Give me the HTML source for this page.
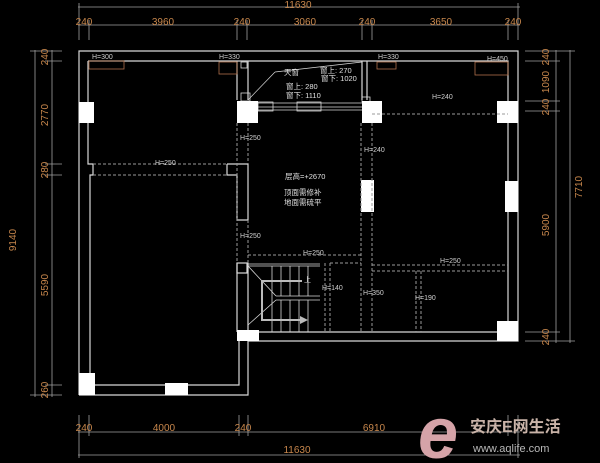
<!DOCTYPE html>
<html><head><meta charset="utf-8"><style>
html,body{margin:0;padding:0;background:#000;width:600px;height:463px;overflow:hidden}
svg{display:block}
.w{stroke:#d8d8d8;stroke-width:1.2;fill:none}
.d{stroke:#9a9a9a;stroke-width:1;fill:none;stroke-dasharray:3 2}
.dim{stroke:#a0a0a0;stroke-width:0.8;fill:none}
.t{fill:#c8874c;font-family:"Liberation Sans",sans-serif;font-size:10px}
.h{fill:#cfcfcf;font-family:"Liberation Sans",sans-serif;font-size:7px}
.c{fill:#e0e0e0;font-family:"Liberation Sans","Noto Sans CJK SC",sans-serif;font-size:7.5px}
.col{fill:#fff}
</style></head><body>
<svg width="600" height="463" viewBox="0 0 600 463" xmlns="http://www.w3.org/2000/svg">
<line class="dim" x1="78" y1="7" x2="520" y2="7"/>
<line class="dim" x1="78" y1="25" x2="520" y2="25"/>
<g class="dim">
<line x1="79" y1="3" x2="79" y2="40"/><line x1="518" y1="3" x2="518" y2="40"/>
<line x1="89" y1="20" x2="89" y2="40"/><line x1="237" y1="20" x2="237" y2="40"/><line x1="247" y1="20" x2="247" y2="40"/>
<line x1="362" y1="20" x2="362" y2="40"/><line x1="372" y1="20" x2="372" y2="40"/><line x1="508" y1="20" x2="508" y2="40"/>
</g>
<text class="t" x="298" y="8" text-anchor="middle">11630</text>
<text class="t" x="84" y="25" text-anchor="middle">240</text>
<text class="t" x="163" y="25" text-anchor="middle">3960</text>
<text class="t" x="242" y="25" text-anchor="middle">240</text>
<text class="t" x="305" y="25" text-anchor="middle">3060</text>
<text class="t" x="367" y="25" text-anchor="middle">240</text>
<text class="t" x="441" y="25" text-anchor="middle">3650</text>
<text class="t" x="513" y="25" text-anchor="middle">240</text>
<line class="dim" x1="78" y1="432" x2="520" y2="432"/>
<line class="dim" x1="78" y1="455" x2="520" y2="455"/>
<g class="dim">
<line x1="79" y1="415" x2="79" y2="458"/><line x1="89" y1="415" x2="89" y2="436"/>
<line x1="239" y1="415" x2="239" y2="436"/><line x1="248" y1="415" x2="248" y2="436"/><line x1="508" y1="415" x2="508" y2="436"/><line x1="518" y1="415" x2="518" y2="458"/>
</g>
<text class="t" x="84" y="431" text-anchor="middle">240</text>
<text class="t" x="164" y="431" text-anchor="middle">4000</text>
<text class="t" x="243" y="431" text-anchor="middle">240</text>
<text class="t" x="374" y="431" text-anchor="middle">6910</text>
<text class="t" x="297" y="453" text-anchor="middle">11630</text>
<line class="dim" x1="35" y1="50" x2="35" y2="397"/>
<line class="dim" x1="52" y1="50" x2="52" y2="397"/>
<g class="dim"><line x1="30" y1="51" x2="62" y2="51"/><line x1="45" y1="61" x2="62" y2="61"/><line x1="45" y1="164" x2="62" y2="164"/><line x1="45" y1="175" x2="62" y2="175"/><line x1="45" y1="385" x2="62" y2="385"/><line x1="30" y1="395" x2="62" y2="395"/></g>
<g class="t">
<text transform="translate(16,240) rotate(-90)" text-anchor="middle">9140</text>
<text transform="translate(48,57) rotate(-90)" text-anchor="middle">240</text>
<text transform="translate(48,115) rotate(-90)" text-anchor="middle">2770</text>
<text transform="translate(48,170) rotate(-90)" text-anchor="middle">280</text>
<text transform="translate(48,285) rotate(-90)" text-anchor="middle">5590</text>
<text transform="translate(48,390) rotate(-90)" text-anchor="middle">260</text>
</g>
<line class="dim" x1="556" y1="50" x2="556" y2="343"/>
<line class="dim" x1="570" y1="50" x2="570" y2="343"/>
<g class="dim"><line x1="525" y1="51" x2="575" y2="51"/><line x1="525" y1="61" x2="560" y2="61"/><line x1="525" y1="101" x2="560" y2="101"/><line x1="525" y1="111" x2="560" y2="111"/><line x1="525" y1="332" x2="560" y2="332"/><line x1="525" y1="341" x2="575" y2="341"/></g>
<g class="t">
<text transform="translate(549,57) rotate(-90)" text-anchor="middle">240</text>
<text transform="translate(549,82) rotate(-90)" text-anchor="middle">1090</text>
<text transform="translate(549,107) rotate(-90)" text-anchor="middle">240</text>
<text transform="translate(549,225) rotate(-90)" text-anchor="middle">5900</text>
<text transform="translate(582,187) rotate(-90)" text-anchor="middle">7710</text>
<text transform="translate(549,337) rotate(-90)" text-anchor="middle">240</text>
</g>
<polyline class="w" points="79,395 79,51 518,51 518,341 248,341 248,395 79,395"/>
<polyline class="w" points="88,61 508,61 508,332 257,332"/>
<polyline class="w" points="88,61 88,164 93,164 93,175 90,175 90,385 239,385 239,341"/>
<polyline class="w" points="227,164 248,164 248,220 237,220 237,175 227,175 227,164"/>
<line class="w" x1="237" y1="61" x2="237" y2="100"/><line class="w" x1="248" y1="61" x2="248" y2="100"/>
<line class="w" x1="362" y1="61" x2="362" y2="100"/><line class="w" x1="367" y1="61" x2="367" y2="100"/>
<line class="w" x1="237" y1="263" x2="237" y2="332"/><line class="w" x1="248" y1="263" x2="248" y2="332"/>
<g class="w" style="stroke-width:0.8">
<line x1="257" y1="103" x2="362" y2="103"/><line x1="257" y1="107" x2="362" y2="107"/><line x1="257" y1="110" x2="362" y2="110"/>
<rect x="258" y="102" width="15" height="9"/><rect x="297" y="102" width="24" height="9"/>
<rect x="241" y="93" width="9" height="8"/><rect x="362" y="97" width="8" height="5"/>
<rect x="241" y="62" width="6" height="6"/>
</g>
<line class="w" style="stroke-width:0.7" x1="248" y1="100" x2="275" y2="72"/><line class="w" style="stroke-width:0.7" x1="275" y1="72" x2="362" y2="62"/>
<rect class="col" x="79" y="102" width="15" height="21"/>
<rect class="col" x="237" y="101" width="21" height="22"/>
<rect class="col" x="362" y="101" width="20" height="22"/>
<rect class="col" x="497" y="101" width="21" height="22"/>
<rect class="col" x="361" y="180" width="13" height="32"/>
<rect class="col" x="505" y="181" width="13" height="31"/>
<rect class="col" x="237" y="330" width="22" height="11"/>
<rect class="col" x="497" y="321" width="21" height="20"/>
<rect class="col" x="79" y="373" width="16" height="22"/>
<rect class="col" x="165" y="383" width="23" height="12"/>
<rect x="237" y="263" width="10" height="10" class="w"/>
<line class="d" x1="237" y1="123" x2="237" y2="263"/><line class="d" x1="248" y1="123" x2="248" y2="164"/><line class="d" x1="248" y1="220" x2="248" y2="263"/>
<line class="d" x1="361" y1="123" x2="361" y2="332"/><line class="d" x1="372" y1="123" x2="372" y2="332"/>
<line class="d" x1="93" y1="164" x2="227" y2="164"/><line class="d" x1="93" y1="175" x2="227" y2="175"/>
<line class="d" x1="248" y1="255" x2="361" y2="255"/>
<line class="d" x1="330" y1="263" x2="361" y2="263"/>
<line class="d" x1="372" y1="265" x2="508" y2="265"/><line class="d" x1="372" y1="271" x2="508" y2="271"/>
<line class="d" x1="416" y1="271" x2="416" y2="332"/><line class="d" x1="421" y1="271" x2="421" y2="332"/>
<line class="d" x1="325" y1="263" x2="325" y2="332"/><line class="d" x1="330" y1="263" x2="330" y2="332"/>
<line class="d" x1="372" y1="114" x2="508" y2="114"/>
<g class="w" style="stroke-width:0.8">
<line x1="248" y1="264" x2="320" y2="264"/><line x1="248" y1="266" x2="320" y2="266"/>
<line x1="276" y1="296" x2="320" y2="296"/><line x1="276" y1="300" x2="320" y2="300"/>
<line x1="272" y1="266" x2="272" y2="332"/><line x1="281" y1="266" x2="281" y2="296"/><line x1="290" y1="266" x2="290" y2="296"/><line x1="299" y1="266" x2="299" y2="296"/><line x1="308" y1="266" x2="308" y2="296"/>
<line x1="281" y1="300" x2="281" y2="332"/><line x1="290" y1="300" x2="290" y2="332"/><line x1="299" y1="300" x2="299" y2="332"/><line x1="308" y1="300" x2="308" y2="332"/>
<line x1="248" y1="266" x2="276" y2="296"/><line x1="248" y1="325" x2="276" y2="300"/>
</g>
<polyline points="302,281 262,281 262,320 300,320" fill="none" stroke="#bbb" stroke-width="2"/>
<polygon points="300,316 308,320 300,324" fill="#bbb"/>
<text class="h" x="304" y="282">上</text>
<g class="h">
<text x="92" y="59">H=300</text><text x="219" y="59">H=330</text><text x="378" y="59">H=330</text><text x="487" y="61">H=450</text>
<text x="432" y="99">H=240</text><text x="155" y="165">H=250</text><text x="240" y="140">H=250</text><text x="364" y="152">H=240</text>
<text x="240" y="238">H=250</text><text x="303" y="255">H=250</text><text x="440" y="263">H=250</text>
<text x="322" y="290">H=140</text><text x="363" y="295">H=350</text><text x="415" y="300">H=190</text>
</g>
<g class="c">
<text x="284" y="75">天窗</text><text x="320" y="73">窗上: 270</text><text x="321" y="81">窗下: 1020</text>
<text x="286" y="89">窗上: 280</text><text x="286" y="98">窗下: 1110</text>
<text x="285" y="179">层高=+2670</text><text x="284" y="195">顶面需修补</text><text x="284" y="205">地面需硫平</text>
</g>
<g stroke="#b0704a" stroke-width="0.8" fill="none">
<rect x="89" y="61" width="35" height="8"/><rect x="219" y="62" width="18" height="12"/><rect x="377" y="62" width="19" height="7"/><rect x="475" y="62" width="33" height="13"/>
</g>
<text x="418" y="458" fill="#d5a3a8" font-family="'Liberation Sans',sans-serif" font-size="72" font-style="italic" font-weight="bold">e</text>
<text x="470" y="432" fill="#c9b3a8" font-family="'Liberation Sans','Noto Sans CJK SC',sans-serif" font-size="16" font-weight="bold">安庆E网生活</text>
<text x="473" y="452" fill="#b8b8b8" font-family="'Liberation Sans',sans-serif" font-size="11">www.aqlife.com</text>
</svg>
</body></html>
